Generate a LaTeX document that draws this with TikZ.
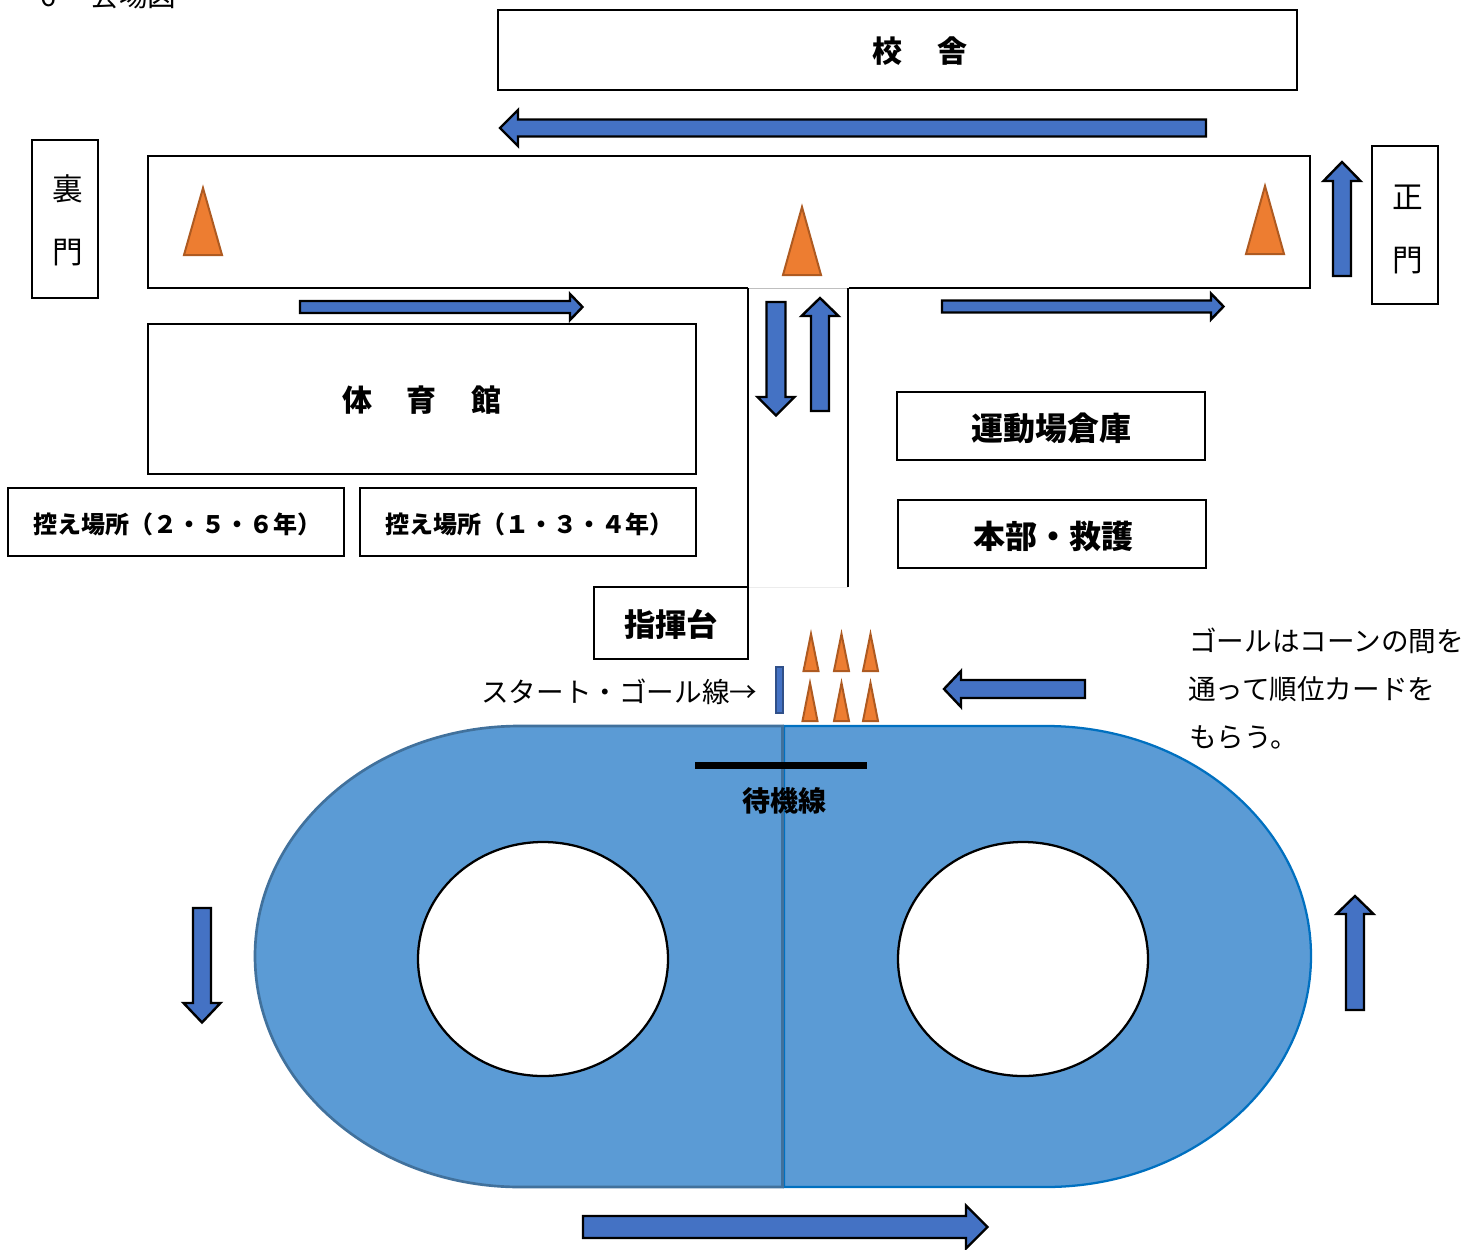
\documentclass[tikz,border=0pt]{standalone}
\usepackage{fontspec}
\setmainfont{Noto Sans CJK JP}
\definecolor{arrowblue}{HTML}{4472C4}
\definecolor{conefill}{HTML}{ED7D31}
\definecolor{coneline}{HTML}{AE5A21}
\definecolor{trackfill}{HTML}{5B9BD5}
\definecolor{trackleft}{HTML}{41719C}
\definecolor{trackright}{HTML}{0070C0}
\tikzset{
  px/.style={x=0.75pt,y=-0.75pt},
  box/.style={draw=black,line width=1.7pt,fill=white},
  blockarrow/.style={draw=black,line width=1.8pt,fill=arrowblue,miter limit=10},
  cone/.style={draw=coneline,line width=1.5pt,fill=conefill},
  label/.style={inner sep=0pt,text=black,font=\bfseries\fontsize{22.5}{24}\selectfont},
  plain/.style={inner sep=0pt,text=black,font=\fontsize{20.7}{22}\selectfont,anchor=west},
  gate/.style={inner sep=0pt,text=black,font=\fontsize{23}{24}\selectfont},
}
% horizontal block arrow: tail x, tip x, y, half shaft, half head, head base x
\newcommand{\harrow}[6]{\draw[blockarrow] (#1,#3-#4) -- (#6,#3-#4) -- (#6,#3-#5) -- (#2,#3) -- (#6,#3+#5) -- (#6,#3+#4) -- (#1,#3+#4) -- cycle;}
% vertical block arrow: tail y, tip y, x, half shaft, half head, head base y
\newcommand{\varrow}[6]{\draw[blockarrow] (#3-#4,#1) -- (#3-#4,#6) -- (#3-#5,#6) -- (#3,#2) -- (#3+#5,#6) -- (#3+#4,#6) -- (#3+#4,#1) -- cycle;}
\newcommand{\conemark}[4]{\draw[cone] (#1,#3) -- (#2,#4) -- (2*#2-#1,#3) -- cycle;}
\begin{document}
\begin{tikzpicture}[px]
\useasboundingbox (0,0) rectangle (1479,1250);
\clip (0,0) rectangle (1479,1250);
\fill[white] (0,0) rectangle (1479,1250);
\node[inner sep=0pt,anchor=west,font=\fontsize{21.5}{22}\selectfont] (title) at (40,-4) {6\hspace{1.2em}会場図};
% track
\draw[fill=trackfill,draw=trackright,line width=1.7pt] (784,726) -- (1046,726) .. controls (1192,726) and (1311,829) .. (1311,956) .. controls (1311,1083) and (1192,1187) .. (1046,1187) -- (784,1187) -- cycle;
\draw[fill=trackfill,draw=trackleft,line width=2pt] (782.5,726) -- (520,726) .. controls (374,726) and (255,829) .. (255,956) .. controls (255,1083) and (374,1187) .. (520,1187) -- (782.5,1187) -- cycle;
\draw[fill=white,draw=black,line width=1.7pt] (543,959) ellipse [x radius=125,y radius=117];
\draw[fill=white,draw=black,line width=1.7pt] (1023,959) ellipse [x radius=125,y radius=117];
\draw[black,line width=5.2pt] (695,765.5) -- (867,765.5);
\node[label,font=\bfseries\fontsize{21}{24}\selectfont] (wait) at (784,801) {待機線};
% boxes
\node[box,label,minimum width=599pt,minimum height=60pt,anchor=center] (school) at (897.5,50) {};
\node[label] (schooltxt) at (920,51) {校\hspace{1.15em}舎};
\draw[draw=black,line width=1.7pt,line join=miter] (748,288) -- (148,288) -- (148,156) -- (1310,156) -- (1310,288) -- (849,288);
\draw[gray!50,line width=0.7pt] (748,288.5) -- (849,288.5);
\draw[black,line width=1.7pt] (748,288) -- (748,587);
\draw[black,line width=1.7pt] (848,288) -- (848,587);
\draw[gray!15,line width=0.7pt] (748,587) -- (848,587);
\node[box,minimum width=49.5pt,minimum height=118.5pt] (back) at (65,219) {};
\node[gate] (backa) at (68,189) {裏};
\node[gate] (backb) at (68,253) {門};
\node[box,minimum width=49.5pt,minimum height=118.5pt] (front) at (1405,225) {};
\node[gate] (fronta) at (1408,197) {正};
\node[gate] (frontb) at (1408,261) {門};
\node[box,minimum width=411pt,minimum height=112.5pt] (gym) at (422,399) {};
\node[label] (gymtxt) at (422,400) {体\hspace{1.15em}育\hspace{1.15em}館};
\node[box,minimum width=252pt,minimum height=51pt] (waita) at (176,522) {};
\node[label,font=\bfseries\fontsize{18}{20}\selectfont] (waitatxt) at (177,524) {控え場所（２・５・６年）};
\node[box,minimum width=252.5pt,minimum height=51pt] (waitb) at (528,522) {};
\node[label,font=\bfseries\fontsize{18}{20}\selectfont] (waitbtxt) at (529,524) {控え場所（１・３・４年）};
\node[box,minimum width=231pt,minimum height=51pt] (store) at (1051,426) {};
\node[label,font=\bfseries\fontsize{24}{26}\selectfont] (storetxt) at (1051,428) {運動場倉庫};
\node[box,minimum width=231pt,minimum height=51pt] (hq) at (1052,534) {};
\node[label,font=\bfseries\fontsize{24}{26}\selectfont] (hqtxt) at (1053,536) {本部・救護};
\node[box,minimum width=115.5pt,minimum height=54pt] (cmd) at (671,623) {};
\node[label,font=\bfseries\fontsize{23.5}{26}\selectfont] (cmdtxt) at (671,624) {指揮台};
% cones
\conemark{184}{203}{255}{188}
\conemark{783}{802}{275}{207}
\conemark{1246}{1265}{254}{186}
\conemark{803.5}{811}{671}{634}
\conemark{834}{841.5}{671}{634}
\conemark{863}{870.5}{671}{634}
\conemark{802.5}{810}{721}{683}
\conemark{834}{841.5}{721}{683}
\conemark{863}{870.5}{721}{683}
% start line
\draw[fill=arrowblue,draw=arrowblue!70!black,line width=1.5pt] (775.5,666.5) rectangle (783,712.5);
% arrows
\harrow{1206}{500}{128}{8.5}{18}{518}
\harrow{300}{582.5}{307}{6}{13}{570}
\harrow{942}{1223.5}{306.5}{6}{13}{1211}
\varrow{276}{162}{1342}{9}{18.5}{181}
\varrow{302}{415.5}{776}{9.5}{18.5}{397}
\varrow{411}{298}{820}{9}{18.5}{316}
\harrow{1085}{944}{689}{9}{18}{961}
\varrow{908}{1022.5}{202}{9}{18.5}{1003}
\varrow{1010}{896}{1355}{9}{18.5}{914}
\harrow{583}{987.5}{1227}{11}{21.5}{966}
% texts
\node[plain] (startlbl) at (481,692) {スタート・ゴール線→};
\node[plain] (note1) at (1189,641) {ゴールはコーンの間を};
\node[plain] (note2) at (1188,689) {通って順位カードを};
\node[plain] (note3) at (1189,737) {もらう。};
\end{tikzpicture}
\end{document}
